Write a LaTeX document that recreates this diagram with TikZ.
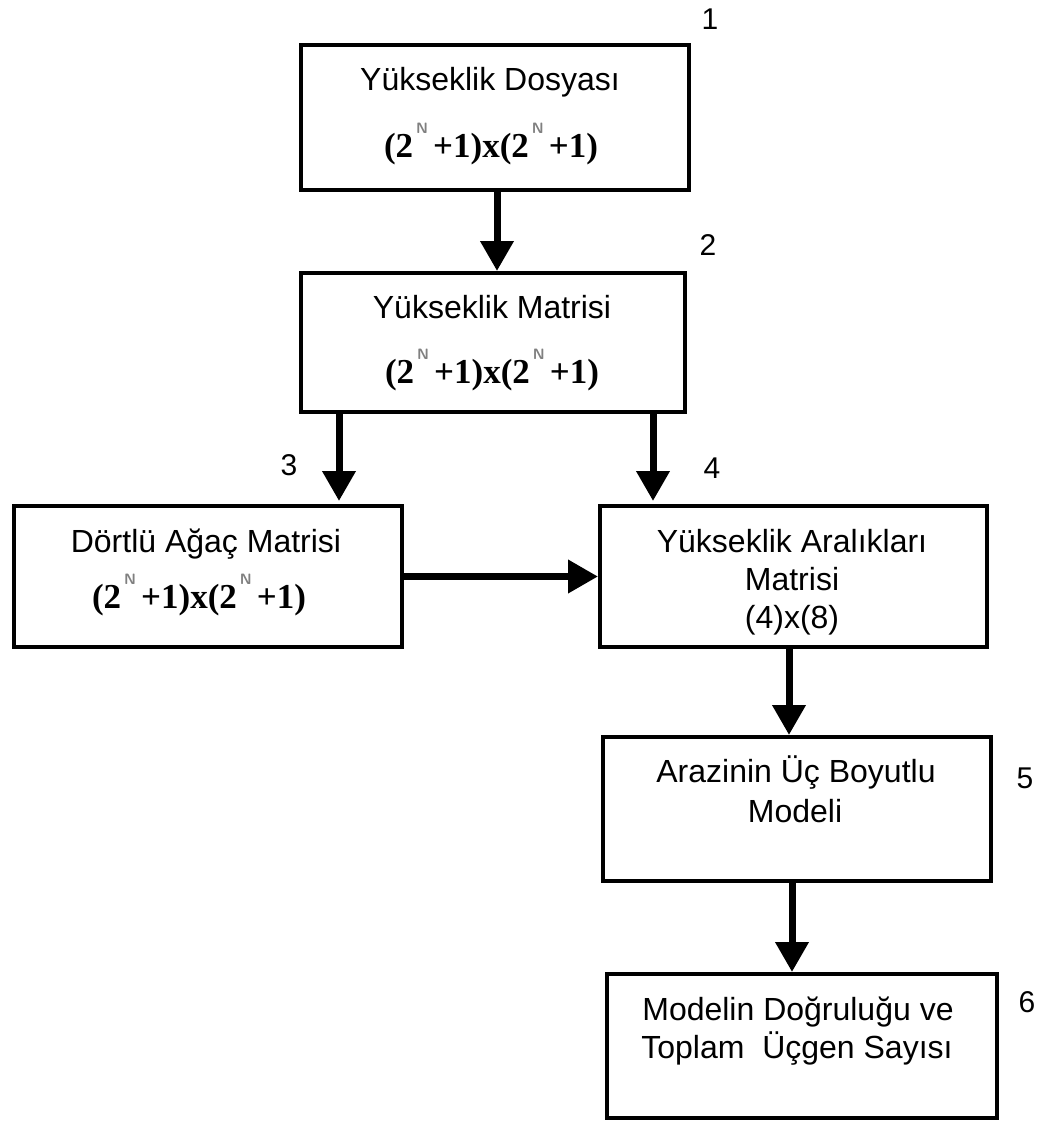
\documentclass[tikz,border=0pt]{standalone}
\usepackage{fontspec}
\usepackage{graphicx}
\setmainfont{Liberation Sans}
\newfontfamily\fserif{Liberation Serif}
\usetikzlibrary{arrows.meta}
\newcommand\supN{\hspace{3pt}\raisebox{24pt}{\color{black!50}\bfseries\sffamily\fontsize{15}{15}\selectfont N}\hspace{5pt}}
\newcommand\sizeformula{(2\supN+1)x(2\supN+1)}
\begin{document}
\begin{tikzpicture}[x=1pt,y=-1pt,
  box/.style={draw,line width=4pt,inner sep=0pt},
  txt/.style={anchor=base,inner sep=0pt,font=\fontsize{32}{36}\selectfont},
  frm/.style={anchor=base,inner sep=0pt,font=\fserif\bfseries\fontsize{35}{38}\selectfont},
  num/.style={anchor=base,inner sep=0pt,font=\fontsize{30}{34}\selectfont},
  arr/.style={line width=7pt,-{Triangle[width=32pt,length=30pt]}}]
\useasboundingbox (0,0) rectangle (1048,1124);
% boxes
\node[box,minimum width=388pt,minimum height=145pt] (b1) at (495,117.5) {};
\node[box,minimum width=384pt,minimum height=139pt] (b2) at (493,342.5) {};
\node[box,minimum width=388pt,minimum height=141pt] (b3) at (208,576.5) {};
\node[box,minimum width=387pt,minimum height=141pt] (b4) at (793.5,576.5) {};
\node[box,minimum width=388pt,minimum height=144pt] (b5) at (797,809) {};
\node[box,minimum width=390pt,minimum height=144pt] (b6) at (802,1046) {};
% texts
\node[txt] (t1a) at (490,90) {Yükseklik Dosyası};
\node[frm] (t1b) at (491,157) {\sizeformula};
\node[txt] (t2a) at (492,318) {Yükseklik Matrisi};
\node[frm] (t2b) at (492,383) {\sizeformula};
\node[txt] (t3a) at (206,552) {Dörtlü Ağaç Matrisi};
\node[frm] (t3b) at (199,608) {\sizeformula};
\node[txt] (t4a) at (792,552) {Yükseklik Aralıkları};
\node[txt] (t4b) at (792,590) {Matrisi};
\node[txt] (t4c) at (792,628) {(4)x(8)};
\node[txt] (t5a) at (796,782) {Arazinin Üç Boyutlu};
\node[txt] (t5b) at (795,822) {Modeli};
\node[txt] (t6a) at (798,1020) {Modelin Doğruluğu ve};
\node[txt] (t6b) at (797,1058) {Toplam\ \ Üçgen Sayısı};
% numbers
\node[num] (n1) at (710,30) {1};
\node[num] (n2) at (708,255) {2};
\node[num] (n3) at (289,475) {3};
\node[num] (n4) at (712,478) {4};
\node[num] (n5) at (1025,788) {5};
\node[num] (n6) at (1027,1012) {6};
% arrows
\coordinate (c12) at (497,0);
\coordinate (c23) at (339,0);
\coordinate (c24) at (653,0);
\coordinate (c45) at (789,0);
\coordinate (c56) at (792,0);
\draw[arr] (b1.south -| c12) -- (b2.north -| c12);
\draw[arr,shorten >=3pt] (b2.south -| c23) -- (b3.north -| c23);
\draw[arr,shorten >=3pt] (b2.south -| c24) -- (b4.north -| c24);
\draw[arr] (b3.east) -- (b4.west);
\draw[arr] (b4.south -| c45) -- (b5.north -| c45);
\draw[arr] (b5.south -| c56) -- (b6.north -| c56);
\end{tikzpicture}
\end{document}
